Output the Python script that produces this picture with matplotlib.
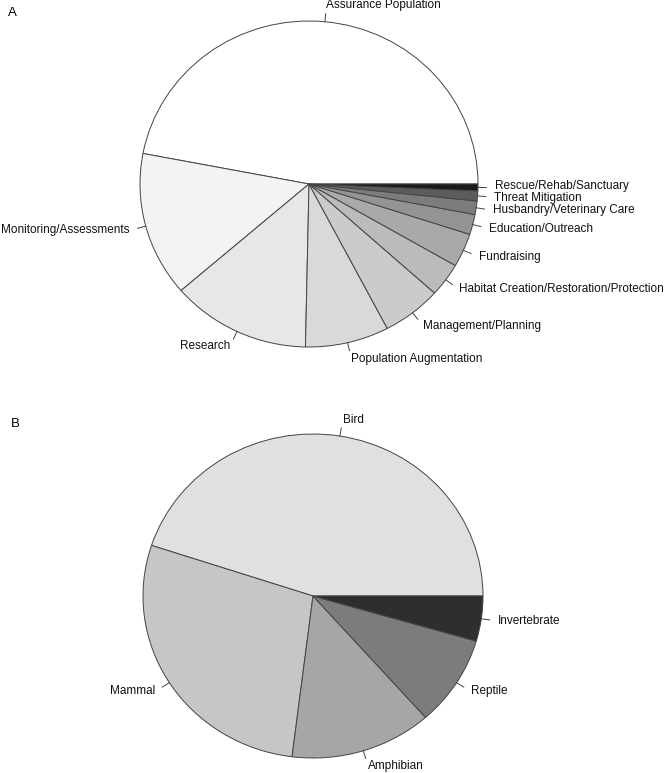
import numpy as np
import matplotlib
matplotlib.use('Agg')
from matplotlib import pyplot as plot

plot.rcParams['font.family'] = ['Liberation Sans', 'DejaVu Sans']

# Panel A: conservation activities (counts)
activityLabels = ['Assurance Population', 'Monitoring/Assessments', 'Research',
                  'Population Augmentation', 'Management/Planning',
                  'Habitat Creation/Restoration/Protection', 'Fundraising',
                  'Education/Outreach', 'Husbandry/Veterinary Care',
                  'Threat Mitigation', 'Rescue/Rehab/Sanctuary']
activityCounts = [141, 43, 40, 24, 17, 10, 10, 6, 4, 3, 2]
activityColors = ['#FFFFFF', '#F3F3F3', '#E7E7E7', '#D9D9D9', '#CBCBCB', '#BBBBBB',
                  '#A9A9A9', '#949494', '#7C7C7C', '#5C5C5C', '#1A1A1A']

# Panel B: taxonomic groups (counts)
taxonLabels = ['Bird', 'Mammal', 'Amphibian', 'Reptile', 'Invertebrate']
taxonCounts = [40, 25, 12, 8, 4]
taxonColors = ['#E0E0E0', '#C6C6C6', '#A6A6A6', '#7C7C7C', '#2E2E2E']

W, H = 666, 773
fig = plot.figure(figsize=(W/100, H/100), dpi=100)


def drawPie(cx, cy, rx, ry, values, labels, colors):
    # axes box sized so that radius 1 -> rx px wide, ry px tall
    spanX, spanY = 2.0, 1.2
    ax = fig.add_axes([(cx - spanX*rx)/W, 1 - (cy + spanY*ry)/H,
                       2*spanX*rx/W, 2*spanY*ry/H])
    wedges, texts = ax.pie(values, labels=labels, colors=colors, startangle=0,
                           counterclock=True, labeldistance=1.1,
                           wedgeprops=dict(edgecolor='#444444', linewidth=0.7),
                           textprops=dict(fontsize=8.5, color='#111111'))
    # R-style tick marks from the rim out to 1.05
    for w in wedges:
        mid = np.deg2rad((w.theta1 + w.theta2)/2)
        ax.plot([np.cos(mid), 1.05*np.cos(mid)], [np.sin(mid), 1.05*np.sin(mid)],
                color='#444444', lw=0.7)
    ax.set_aspect('auto')
    ax.set_xlim(-spanX, spanX)
    ax.set_ylim(-spanY, spanY)
    ax.axis('off')
    return ax, texts


axA, textsA = drawPie(309, 184, 169, 163, activityCounts, activityLabels, activityColors)
drawPie(313, 596, 170, 162, taxonCounts, taxonLabels, taxonColors)

# the two thinnest slices sit very close; spread their labels a touch
x, y = textsA[-1].get_position()
textsA[-1].set_position((x, y + 0.012))
x, y = textsA[-2].get_position()
textsA[-2].set_position((x, y - 0.008))

fig.text(8/W, 1 - 13/H, 'A', fontsize=9.5, va='center', ha='left')
fig.text(11/W, 1 - 424/H, 'B', fontsize=9.5, va='center', ha='left')

fig.savefig('out.png', dpi=100)
